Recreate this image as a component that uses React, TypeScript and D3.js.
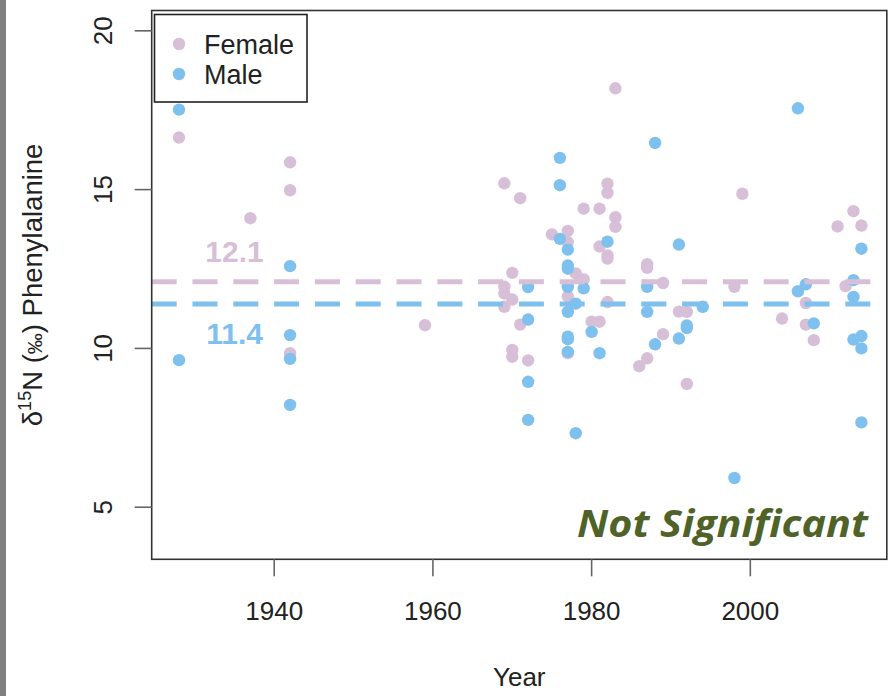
import React from "react";
import * as d3 from "d3";

// sample years and d15N values
const femaleYears = [
  1928, 1937, 1942, 1942, 1942, 1959, 1969, 1969, 1969, 1969, 1970, 1970, 1970, 1970,
  1971, 1971, 1972, 1975, 1977, 1977, 1977, 1977, 1978, 1979, 1979, 1980, 1981, 1981,
  1981, 1982, 1982, 1982, 1982, 1982, 1983, 1983, 1983, 1986, 1987, 1987, 1987, 1989,
  1989, 1991, 1992, 1992, 1998, 1999, 2004, 2007, 2007, 2008, 2011, 2012, 2013, 2014
];
const femaleValues = [
  16.64, 14.1, 15.86, 14.98, 9.85, 10.73, 15.2, 11.94, 11.73, 11.31, 12.38, 11.54, 9.95, 9.74,
  14.73, 10.75, 9.62, 13.59, 13.7, 13.35, 11.64, 9.85, 12.36, 14.4, 12.17, 10.84, 14.4, 13.21,
  10.84, 15.19, 14.9, 12.93, 12.83, 11.46, 18.19, 14.13, 13.83, 9.44, 12.65, 12.54, 9.69, 12.06,
  10.45, 11.16, 11.15, 8.88, 11.94, 14.87, 10.94, 11.43, 10.75, 10.26, 13.84, 11.96, 14.32, 13.87
];

const maleYears = [
  1928, 1928, 1942, 1942, 1942, 1942, 1972, 1972, 1972, 1972, 1976, 1976, 1976,
  1977, 1977, 1977, 1977, 1977, 1977, 1977, 1977, 1978, 1978, 1979, 1980, 1981, 1982,
  1987, 1987, 1988, 1988, 1991, 1991, 1992, 1992, 1994, 1998, 2006, 2006, 2007, 2008,
  2013, 2013, 2013, 2014, 2014, 2014, 2014
];
const maleValues = [
  17.52, 9.63, 12.59, 10.42, 9.67, 8.22, 11.93, 10.91, 8.95, 7.75, 16.0, 15.14, 13.45,
  13.11, 12.61, 12.51, 11.94, 11.15, 10.37, 10.29, 9.89, 11.41, 7.33, 11.89, 10.52, 9.85, 13.36,
  11.94, 11.15, 16.47, 10.13, 13.27, 10.31, 10.72, 10.64, 11.31, 5.92, 17.56, 11.8, 12.02, 10.79,
  12.15, 11.62, 10.28, 13.14, 10.39, 10.0, 7.67
];

const femaleMean = 12.1;
const maleMean = 11.4;

const xTicks = [1940, 1960, 1980, 2000];
const yTicks = [5, 10, 15, 20];

const FEMALE = "#d8bfd8";
const MALE = "#7ec0ee";
const FONT = "'Liberation Sans', Arial, sans-serif";

const W = 889;
const H = 696;
const plot = { left: 151.7, right: 886.8, top: 10.5, bottom: 559.3 };

export default function App() {
  const x = d3.scaleLinear().domain([1924.56, 2017.2]).range([plot.left, plot.right]);
  const y = d3.scaleLinear().domain([3.36, 20.64]).range([plot.bottom, plot.top]);

  const females = femaleYears.map((yr, i) => ({ yr, v: femaleValues[i] }));
  const males = maleYears.map((yr, i) => ({ yr, v: maleValues[i] }));

  return (
    <svg
      width={W}
      height={H}
      style={{ position: "absolute", left: 0, top: 0, background: "#fff" }}
      fontFamily={FONT}
    >
      <rect x={0} y={0} width={W} height={H} fill="#fff" />
      <rect x={0} y={0} width={6} height={H} fill="#808080" />
      <defs>
        <clipPath id="plotclip">
          <rect x={plot.left} y={plot.top} width={plot.right - plot.left} height={plot.bottom - plot.top} />
        </clipPath>
      </defs>

      <g clipPath="url(#plotclip)">
        {females.map((d, i) => (
          <circle key={"f" + i} cx={x(d.yr)} cy={y(d.v)} r={6.2} fill={FEMALE} />
        ))}
        {males.map((d, i) => (
          <circle key={"m" + i} cx={x(d.yr)} cy={y(d.v)} r={6.2} fill={MALE} />
        ))}
        <line x1={plot.left} x2={plot.right} y1={y(femaleMean)} y2={y(femaleMean)}
          stroke={FEMALE} strokeWidth={5} strokeDasharray="25 15.8" />
        <line x1={plot.left} x2={plot.right} y1={y(maleMean)} y2={y(maleMean)}
          stroke={MALE} strokeWidth={5} strokeDasharray="25 15.8" />
      </g>

      <text x={x(1935)} y={y(femaleMean) - 20} textAnchor="middle" fontSize={30}
        fontWeight="bold" fill={FEMALE}>{femaleMean.toFixed(1)}</text>
      <text x={x(1935)} y={y(maleMean) + 40} textAnchor="middle" fontSize={30}
        fontWeight="bold" fill={MALE}>{maleMean.toFixed(1)}</text>

      {/* frame */}
      <rect x={plot.left} y={plot.top} width={plot.right - plot.left} height={plot.bottom - plot.top}
        fill="none" stroke="#333" strokeWidth={1.6} />

      {/* x axis */}
      {xTicks.map(t => (
        <g key={"x" + t}>
          <line x1={x(t)} x2={x(t)} y1={plot.bottom} y2={plot.bottom + 17} stroke="#666" strokeWidth={1.6} />
          <text x={x(t)} y={620} textAnchor="middle" fontSize={26} fill="#222">{t}</text>
        </g>
      ))}
      <text x={(plot.left + plot.right) / 2} y={686} textAnchor="middle" fontSize={26} fill="#222">Year</text>

      {/* y axis */}
      {yTicks.map(t => (
        <g key={"y" + t}>
          <line x1={plot.left - 17} x2={plot.left} y1={y(t)} y2={y(t)} stroke="#666" strokeWidth={1.6} />
          <text transform={`translate(112,${y(t)}) rotate(-90)`} textAnchor="middle" fontSize={26} fill="#222">{t}</text>
        </g>
      ))}
      <text transform={`translate(42,${(plot.top + plot.bottom) / 2}) rotate(-90)`} textAnchor="middle"
        fontSize={27.5} fill="#222">
        δ<tspan fontSize={18} dy={-11}>15</tspan><tspan dy={11}>N (</tspan><tspan fontSize={21}>‰</tspan><tspan>) Phenylalanine</tspan>
      </text>

      {/* legend */}
      <rect x={154.5} y={14.5} width={152.5} height={87.5} fill="#fff" stroke="#222" strokeWidth={1.6} />
      <circle cx={179} cy={44} r={6.2} fill={FEMALE} />
      <circle cx={179} cy={74} r={6.2} fill={MALE} />
      <text x={204} y={54} fontSize={27} fill="#222">Female</text>
      <text x={204} y={84} fontSize={27} fill="#222">Male</text>

      <text x={868} y={537} textAnchor="end" fontSize={38} fontStyle="italic" fontWeight="bold"
        fill="#4f6228" fontFamily="'Open Sans', sans-serif" textLength={291} lengthAdjust="spacingAndGlyphs">
        Not Significant
      </text>
    </svg>
  );
}
